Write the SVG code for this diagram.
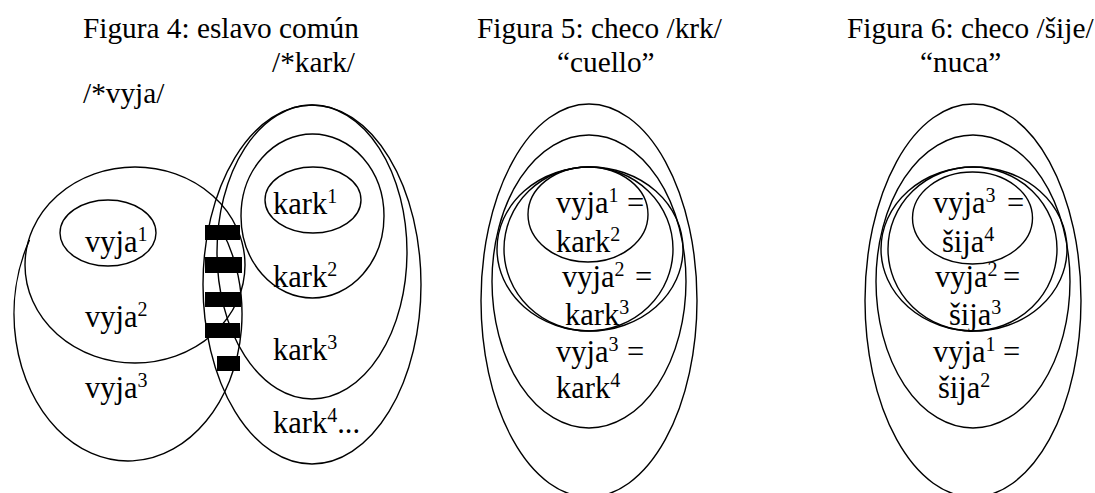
<svg xmlns="http://www.w3.org/2000/svg" width="1095" height="493" viewBox="0 0 1095 493">
<style>
  text { font-family: "Liberation Serif", "Times New Roman", serif; font-size: 30.5px; fill: #000; }
  .title { font-size: 29.3px; }
  .sup { font-size: 20px; }
  .e { fill: none; stroke: #000; stroke-width: 1.4; }
  .bar { fill: #000; }
</style>
<rect width="1095" height="493" fill="#fff"/>

<!-- Titles -->
<g id="title4">
  <text class="title" x="83" y="38">Figura 4: eslavo común</text>
  <text class="title" x="272" y="72">/*kark/</text>
  <text class="title" x="83" y="103">/*vyja/</text>
</g>
<g id="title5">
  <text class="title" x="477" y="38">Figura 5: checo /krk/</text>
  <text class="title" x="557" y="72">“cuello”</text>
</g>
<g id="title6">
  <text class="title" x="847" y="38">Figura 6: checo /šije/</text>
  <text class="title" x="920" y="72">“nuca”</text>
</g>

<!-- Figure 4: left cluster (vyja) -->
<g id="vyja3">
  <path class="e" d="M 29.5 240 A 114 147 0 1 0 221.6 230"/>
  <text x="85" y="398">vyja<tspan class="sup" dy="-11">3</tspan></text>
</g>
<g id="vyja2">
  <ellipse class="e" cx="135" cy="265" rx="110" ry="98"/>
  <text x="85" y="327">vyja<tspan class="sup" dy="-11">2</tspan></text>
</g>
<g id="vyja1">
  <ellipse class="e" cx="108" cy="233" rx="48" ry="33"/>
  <text x="85" y="252">vyja<tspan class="sup" dy="-11">1</tspan></text>
</g>

<!-- Figure 4: right cluster (kark) -->
<g id="kark4">
  <ellipse class="e" cx="312" cy="284.5" rx="109" ry="179.5"/>
  <text x="273" y="433">kark<tspan class="sup" dy="-11">4</tspan><tspan dy="11">...</tspan></text>
</g>
<g id="kark3">
  <ellipse class="e" cx="312" cy="252" rx="95" ry="147"/>
  <text x="273" y="360">kark<tspan class="sup" dy="-11">3</tspan></text>
</g>
<g id="kark2">
  <ellipse class="e" cx="312.5" cy="216" rx="71.5" ry="82"/>
  <text x="273" y="287">kark<tspan class="sup" dy="-11">2</tspan></text>
</g>
<g id="kark1">
  <ellipse class="e" cx="313" cy="200" rx="48" ry="33"/>
  <text x="273" y="214">kark<tspan class="sup" dy="-11">1</tspan></text>
</g>

<!-- Figure 4: overlap bars -->
<g id="bars">
  <rect class="bar" x="205" y="225" width="35" height="15"/>
  <rect class="bar" x="205" y="257" width="37" height="16"/>
  <rect class="bar" x="205" y="292" width="36" height="15"/>
  <rect class="bar" x="205" y="323" width="35" height="15"/>
  <rect class="bar" x="217" y="356" width="23" height="15"/>
</g>

<!-- Figure 5 -->
<g id="fig5-outer"><ellipse class="e" cx="589" cy="300.5" rx="108" ry="196.5"/></g>
<g id="fig5-b"><ellipse class="e" cx="589" cy="281.5" rx="97" ry="146.5"/></g>
<g id="fig5-c"><ellipse class="e" cx="590" cy="249" rx="93" ry="82"/></g>
<g id="fig5-d"><ellipse class="e" cx="588.5" cy="249" rx="84.5" ry="82"/></g>
<g id="fig5-small"><ellipse class="e" cx="588" cy="214.5" rx="60" ry="47.5"/></g>
<g id="fig5-text">
  <text x="556" y="213">vyja<tspan class="sup" dy="-11">1</tspan><tspan x="627" dy="11">=</tspan></text>
  <text x="556" y="252">kark<tspan class="sup" dy="-11">2</tspan></text>
  <text x="562" y="287">vyja<tspan class="sup" dy="-11">2</tspan><tspan x="635" dy="11">=</tspan></text>
  <text x="565" y="325">kark<tspan class="sup" dy="-11">3</tspan></text>
  <text x="556" y="362">vyja<tspan class="sup" dy="-11">3</tspan><tspan x="627" dy="11">=</tspan></text>
  <text x="556" y="398">kark<tspan class="sup" dy="-11">4</tspan></text>
</g>

<!-- Figure 6 -->
<g id="fig6-outer"><ellipse class="e" cx="973" cy="300.5" rx="108" ry="196.5"/></g>
<g id="fig6-b"><ellipse class="e" cx="973" cy="281.5" rx="97" ry="146.5"/></g>
<g id="fig6-c"><ellipse class="e" cx="974" cy="249" rx="93" ry="82"/></g>
<g id="fig6-d"><ellipse class="e" cx="972.5" cy="249" rx="84.5" ry="82"/></g>
<g id="fig6-small"><ellipse class="e" cx="972.5" cy="218" rx="60" ry="46"/></g>
<g id="fig6-text">
  <text x="933" y="213">vyja<tspan class="sup" dy="-11">3</tspan><tspan x="1007" dy="11">=</tspan></text>
  <text x="942" y="252">šija<tspan class="sup" dy="-11">4</tspan></text>
  <text x="935" y="287">vyja<tspan class="sup" dy="-11">2</tspan><tspan x="1003" dy="11">=</tspan></text>
  <text x="949" y="325">šija<tspan class="sup" dy="-11">3</tspan></text>
  <text x="933" y="362">vyja<tspan class="sup" dy="-11">1</tspan><tspan x="1003" dy="11">=</tspan></text>
  <text x="938" y="398">šija<tspan class="sup" dy="-11">2</tspan></text>
</g>
</svg>
